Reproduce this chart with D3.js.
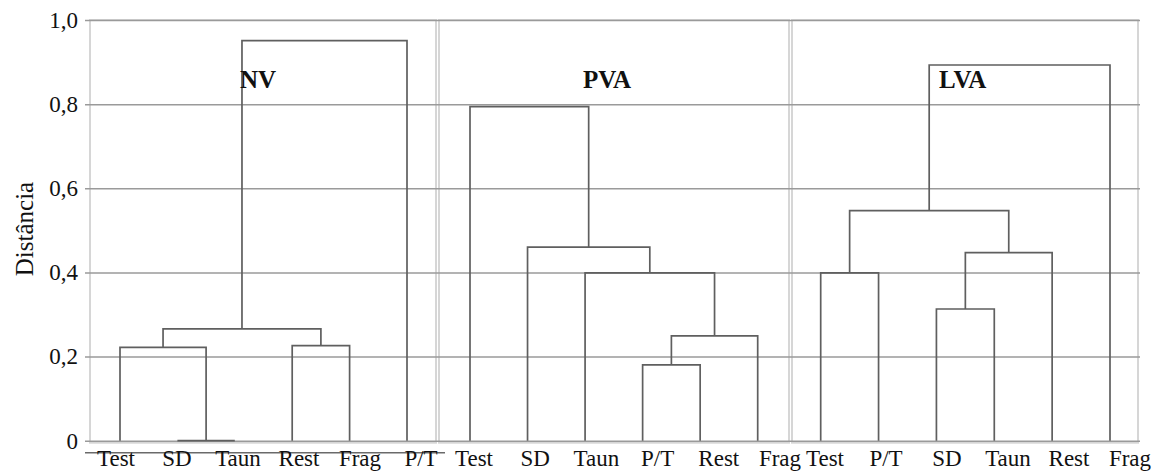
<!DOCTYPE html>
<html>
<head>
<meta charset="utf-8">
<script src="https://cdn.jsdelivr.net/npm/d3@7"></script>
<style>
  html, body { margin: 0; padding: 0; background: #fff; }
  svg { display: block; font-family: "Liberation Serif", "Times New Roman", serif; }
</style>
</head>
<body>
<svg id="chart" width="1153" height="471"></svg>
<script>
// Distance axis ticks
const distanceTicks = [0, 0.2, 0.4, 0.6, 0.8, 1.0];

// NV: leaf order and agglomeration steps [childA, childB, distance]
// (indices < 6 are leaves; 6 + i refers to the cluster formed at step i)
const nvLeaves = ["Test", "SD", "Taun", "Rest", "Frag", "P/T"];
const nvMerges = [[1, 2, 0.0], [0, 6, 0.222], [3, 4, 0.226], [7, 8, 0.266], [9, 5, 0.951]];

// PVA
const pvaLeaves = ["Test", "SD", "Taun", "P/T", "Rest", "Frag"];
const pvaMerges = [[3, 4, 0.180], [6, 5, 0.249], [2, 7, 0.399], [1, 8, 0.460], [0, 9, 0.794]];

// LVA
const lvaLeaves = ["Test", "P/T", "SD", "Taun", "Rest", "Frag"];
const lvaMerges = [[0, 1, 0.399], [2, 3, 0.313], [7, 4, 0.447], [6, 8, 0.547], [9, 5, 0.893]];

const panelTitles = ["NV", "PVA", "LVA"];

const panels = [
  { title: panelTitles[0], leaves: nvLeaves, merges: nvMerges,
    frame: [90, 436], leafRange: [120, 407], labelRange: [116, 421], titleX: 240 },
  { title: panelTitles[1], leaves: pvaLeaves, merges: pvaMerges,
    frame: [439, 789], leafRange: [470, 757.7], labelRange: [474, 780], titleX: 583 },
  { title: panelTitles[2], leaves: lvaLeaves, merges: lvaMerges,
    frame: [792, 1138], leafRange: [820.7, 1110], labelRange: [825, 1130], titleX: 939 }
];

const svg = d3.select("#chart");
const plotTop = 20, plotBottom = 440.7;
const gridLeft = 85, gridRight = 1140;

const y = d3.scaleLinear().domain([0, 1]).range([plotBottom, plotTop]);

const locale = d3.formatLocale({ decimal: ",", thousands: ".", grouping: [3], currency: ["", ""] });
const fmt = locale.format(".1f");

// panel frames
panels.forEach(p => {
  svg.append("rect")
    .attr("x", p.frame[0]).attr("y", plotTop)
    .attr("width", p.frame[1] - p.frame[0]).attr("height", plotBottom + 2 - plotTop)
    .attr("fill", "none").attr("stroke", "#d6d6d6").attr("stroke-width", 2);
});

// horizontal grid + left axis
const axis = d3.axisLeft(y)
  .tickValues(distanceTicks)
  .tickFormat(d => d === 0 ? "0" : fmt(d))
  .tickSize(-(gridRight - gridLeft))
  .tickPadding(7);

const gAxis = svg.append("g")
  .attr("transform", `translate(${gridLeft},0)`)
  .call(axis);
gAxis.select(".domain").remove();
gAxis.selectAll(".tick line").attr("stroke", "#9a9a9a").attr("stroke-width", 1.5);
gAxis.selectAll(".tick text")
  .attr("font-family", "Liberation Serif, serif")
  .attr("font-size", 23)
  .attr("fill", "#111");

// bottom axis line under the first panel
svg.append("line")
  .attr("x1", gridLeft).attr("x2", 445)
  .attr("y1", 452.7).attr("y2", 452.7)
  .attr("stroke", "#6a6a6a").attr("stroke-width", 1.6);

// y axis title
svg.append("text")
  .attr("transform", `translate(33,229) rotate(-90)`)
  .attr("text-anchor", "middle")
  .attr("font-size", 25)
  .attr("fill", "#111")
  .text("Distância");

// build a nested tree from the merge steps
function buildTree(leaves, merges) {
  const nodes = leaves.map(name => ({ name }));
  merges.forEach(([a, b, h]) => nodes.push({ height: h, children: [nodes[a], nodes[b]] }));
  return nodes[nodes.length - 1];
}

panels.forEach(p => {
  const x = d3.scalePoint().domain(p.leaves).range(p.leafRange);
  const xLabel = d3.scalePoint().domain(p.leaves).range(p.labelRange);

  const root = d3.hierarchy(buildTree(p.leaves, p.merges));
  root.eachAfter(n => {
    if (!n.children) { n.px = x(n.data.name); n.py = 0; }
    else {
      n.px = d3.mean(n.children, c => c.px);
      n.py = n.data.height;
    }
  });

  const g = svg.append("g");
  // elbow links: vertical leg from each child up to the parent's height, then a bar
  root.descendants().filter(n => n.children).forEach(n => {
    const [a, b] = n.children;
    const path = d3.path();
    path.moveTo(a.px, y(a.py));
    path.lineTo(a.px, y(n.py));
    path.lineTo(b.px, y(n.py));
    path.lineTo(b.px, y(b.py));
    g.append("path")
      .attr("d", path.toString())
      .attr("fill", "none")
      .attr("stroke", "#5f5f5f")
      .attr("stroke-width", 1.7);
  });

  // leaf labels
  svg.append("g").selectAll("text")
    .data(p.leaves)
    .join("text")
    .attr("x", d => xLabel(d))
    .attr("y", 466)
    .attr("text-anchor", "middle")
    .attr("font-size", 23)
    .attr("fill", "#111")
    .text(d => d);

  // panel title
  svg.append("text")
    .attr("x", p.titleX).attr("y", 88)
    .attr("font-size", 25)
    .attr("font-weight", "bold")
    .attr("fill", "#111")
    .text(p.title);
});
</script>
</body>
</html>
